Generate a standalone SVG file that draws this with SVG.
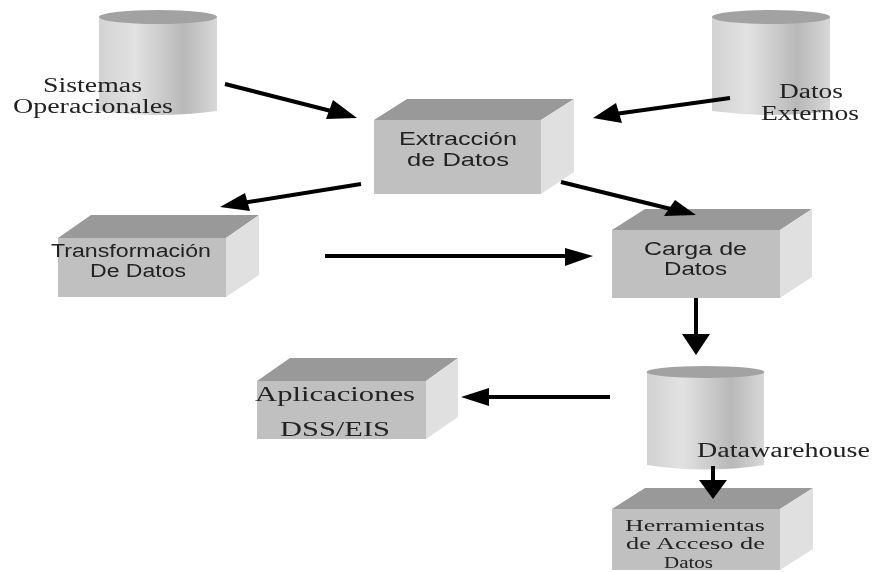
<svg xmlns="http://www.w3.org/2000/svg" width="873" height="572" viewBox="0 0 873 572">
<style>
.top{fill:#999}.front{fill:#c0c0c0}.side{fill:#e0e0e0}
.cyl{fill:url(#cg)}.lid{fill:#a2a2a2}
text{fill:#222}
.s{font-family:"Liberation Serif",serif;font-size:20px}
.h{font-family:"Liberation Serif",serif;font-size:17px}
.a{font-family:"Liberation Sans",sans-serif;font-size:18px}
.c line{stroke:#000;stroke-width:4}
.c polygon{fill:#000}
</style>
<defs>
<linearGradient id="cg" x1="0" x2="1" y1="0" y2="0">
<stop offset="0" stop-color="#d2d2d2"/><stop offset=".3" stop-color="#e2e2e2"/><stop offset=".55" stop-color="#cacaca"/><stop offset=".72" stop-color="#b8b8b8"/><stop offset="1" stop-color="#d8d8d8"/>
</linearGradient>
<filter id="soft" x="0" y="0" width="100%" height="100%"><feGaussianBlur stdDeviation="0.45"/></filter>
</defs>
<rect width="873" height="572" fill="#fff"/>
<g filter="url(#soft)">
<g id="sistemas">
<path class="cyl" d="M99 17V111Q158 119 217 111V17Z"/><ellipse class="lid" cx="158" cy="17" rx="59" ry="7"/>
<text class="s" x="43" y="92" textLength="99" lengthAdjust="spacingAndGlyphs">Sistemas</text>
<text class="s" x="13" y="113" textLength="160" lengthAdjust="spacingAndGlyphs">Operacionales</text>
</g>
<g id="externos">
<path class="cyl" d="M712 17V111Q771 119 830 111V17Z"/><ellipse class="lid" cx="771" cy="17" rx="59" ry="7"/>
<text class="s" x="779" y="98" textLength="64" lengthAdjust="spacingAndGlyphs">Datos</text>
<text class="s" x="761" y="120" textLength="98" lengthAdjust="spacingAndGlyphs">Externos</text>
</g>
<g id="extraccion">
<polygon class="top" points="374,120 407,99 574,99 541,120"/><polygon class="side" points="541,120 574,99 574,172 541,194"/><rect class="front" x="374" y="120" width="167" height="74"/>
<text class="a" x="399" y="145" textLength="118" lengthAdjust="spacingAndGlyphs">Extracción</text>
<text class="a" x="407" y="166" textLength="102" lengthAdjust="spacingAndGlyphs">de Datos</text>
</g>
<g id="transformacion">
<polygon class="top" points="58,238 91,215 259,215 226,238"/><polygon class="side" points="226,238 259,215 259,275 226,297"/><rect class="front" x="58" y="238" width="168" height="59"/>
<text class="a" x="51" y="257" textLength="160" lengthAdjust="spacingAndGlyphs">Transformación</text>
<text class="a" x="90" y="277" textLength="96" lengthAdjust="spacingAndGlyphs">De Datos</text>
</g>
<g id="carga">
<polygon class="top" points="612,230 645,209 812,209 780,230"/><polygon class="side" points="780,230 812,209 812,277 780,298"/><rect class="front" x="612" y="230" width="168" height="68"/>
<text class="a" x="644" y="255" textLength="103" lengthAdjust="spacingAndGlyphs">Carga de</text>
<text class="a" x="664" y="275" textLength="63" lengthAdjust="spacingAndGlyphs">Datos</text>
</g>
<g id="aplicaciones">
<polygon class="top" points="257,381 290,358 458,358 426,381"/><polygon class="side" points="426,381 458,358 458,417 426,439"/><rect class="front" x="257" y="381" width="169" height="58"/>
<text class="s" x="255" y="401" textLength="160" lengthAdjust="spacingAndGlyphs">Aplicaciones</text>
<text class="s" x="280" y="436" textLength="110" lengthAdjust="spacingAndGlyphs">DSS/EIS</text>
</g>
<g id="datawarehouse">
<path class="cyl" d="M647 372V465Q705 474 764 465V372Z"/><ellipse class="lid" cx="705.500" cy="372" rx="59" ry="6"/>
<text class="s" x="697" y="457" textLength="173" lengthAdjust="spacingAndGlyphs">Datawarehouse</text>
</g>
<g id="herramientas">
<polygon class="top" points="612,509 645,488 813,488 780,509"/><polygon class="side" points="780,509 813,488 813,549 780,570"/><rect class="front" x="612" y="509" width="168" height="61"/>
<text class="h" x="625" y="531" textLength="140" lengthAdjust="spacingAndGlyphs">Herramientas</text>
<text class="h" x="626" y="549" textLength="139" lengthAdjust="spacingAndGlyphs">de Acceso de</text>
<text class="h" x="664" y="568" textLength="49" lengthAdjust="spacingAndGlyphs">Datos</text>
</g>
<g id="connectors" class="c">
<line x1="225" y1="84" x2="335" y2="112"/><polygon points="357,118 326,119 333,100"/>
<line x1="730" y1="98" x2="615" y2="114"/><polygon points="593,118 622,123 616,103"/>
<line x1="361" y1="184" x2="242" y2="203"/><polygon points="220,207 250,211 245,193"/>
<line x1="561" y1="182" x2="675" y2="210"/><polygon points="696,215 664,216 675,200"/>
<line x1="325" y1="256" x2="565" y2="256"/><polygon points="593,256 565,248 565,266"/>
<line x1="696" y1="298" x2="696" y2="336"/><polygon points="696,355 682,334 710,334"/>
<line x1="610" y1="397" x2="487" y2="397"/><polygon points="461,397 489,388 489,406"/>
<line x1="713" y1="466" x2="713" y2="482"/><polygon points="713,499 699,480 727,480"/>
</g>
</g>
</svg>
